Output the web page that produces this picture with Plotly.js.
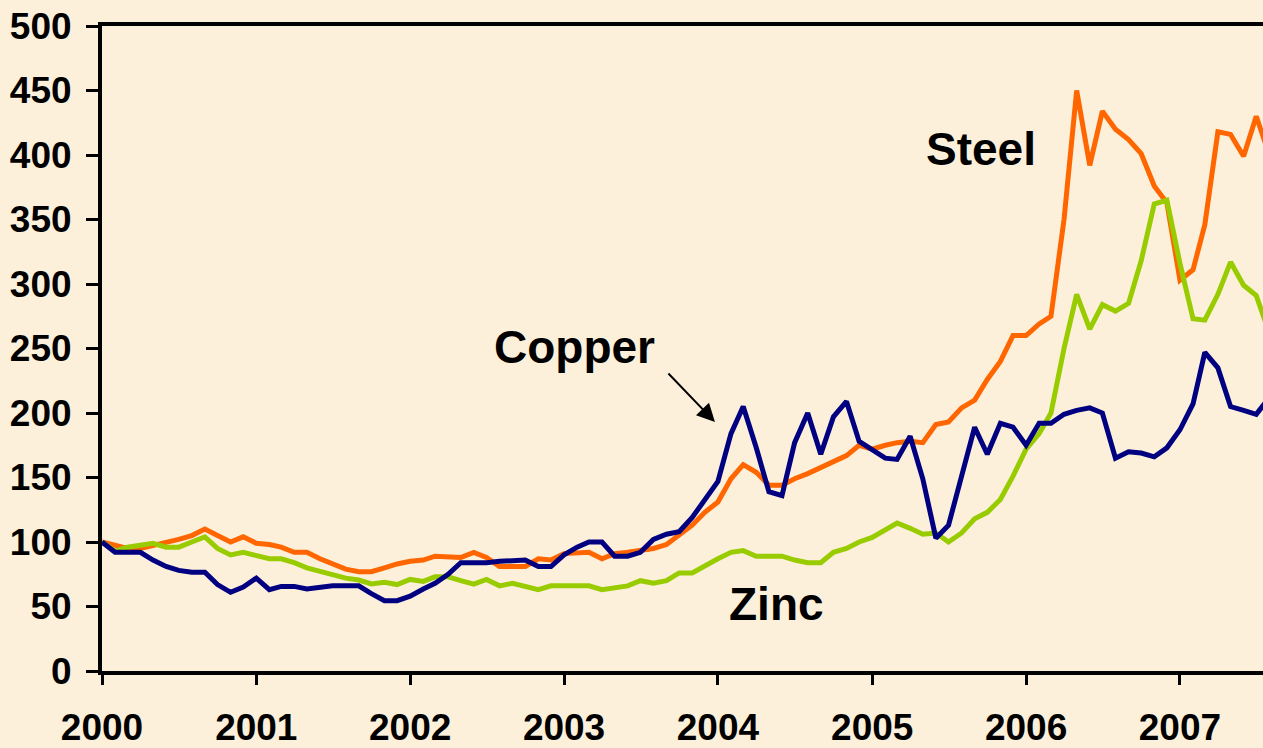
<!DOCTYPE html>
<html>
<head>
<meta charset="utf-8">
<script src="https://cdn.plot.ly/plotly-3.0.1.min.js"></script>
<style>
  html, body { margin: 0; padding: 0; background: #fcf0da; }
  #chart { width: 1263px; height: 748px; }
</style>
</head>
<body>
<div id="chart"></div>
<script>
// Monthly index values, Jan 2000 = 100 (Jan 2000 .. Aug 2007)
const startYear = 2000;
const steel = [100, 97, 95, 95, 97, 100, 102, 105, 110, 105, 100, 104,
               99, 98, 96, 92, 92, 87, 83, 79, 77, 77, 80, 83,
               85, 86, 89, 88, 88, 92, 88, 81, 81, 81, 87, 86,
               91, 92, 92, 87, 91, 92, 93, 95, 98, 105, 113, 123,
               131, 149, 160, 154, 144, 144, 149, 153, 158, 162, 167, 175,
               172, 175, 177, 178, 177, 191, 193, 204, 210, 226, 240, 260,
               260, 269, 275, 350, 450, 392, 434, 420, 412, 401, 376, 363,
               303, 311, 346, 418, 416, 399, 430, 400];
const copper = [100, 92, 92, 92, 86, 81, 78, 76.5, 76.5, 67, 61, 65,
                72, 63, 65.6, 65.6, 63.6, 64.7, 66, 66, 66, 60, 54.5, 54.5,
                58, 63.6, 68, 75, 84, 84, 84, 85, 86, 86, 81, 81,
                90, 96, 100, 100, 89, 89, 92, 102, 106, 108, 119, 132,
                147, 184, 205, 173, 139, 136, 177, 200, 168, 197, 209, 178,
                171, 165, 164, 182, 149, 103, 113, 151, 189, 168, 192, 189,
                175, 192, 192, 199, 202, 204, 200, 165, 170, 169, 166, 173,
                187, 207, 247, 235, 205, 202, 199, 212];
const zinc = [100, 93, 96, 98, 99, 96, 96, 100, 104, 95, 90, 92,
              89, 87, 87, 84, 80, 77, 75, 72, 70.5, 67.5, 68.7, 67,
              71, 69.5, 73, 73, 70, 67.4, 71, 66, 68, 66, 63, 66,
              66, 66, 66, 63, 64.3, 66, 70, 68, 70, 76, 76, 81.6,
              87, 92, 93.3, 89, 89, 89, 86, 84, 84, 92, 95, 100,
              103.6, 110, 114.7, 110.6, 106, 107, 100, 107, 118, 123, 133, 151,
              172, 184, 200, 250, 292, 265, 284, 279, 285, 318, 362, 365,
              316, 273, 272, 292, 317, 299, 291, 262];
const seriesNames = ['Steel', 'Copper', 'Zinc'];
const seriesColors = ['#ff6600', '#000080', '#99cc00'];
const yTicks = [0, 50, 100, 150, 200, 250, 300, 350, 400, 450, 500];

const months = steel.map((_, i) => {
  const y = startYear + Math.floor(i / 12);
  const m = (i % 12) + 1;
  return y + '-' + String(m).padStart(2, '0') + '-01';
});

const seriesData = [steel, copper, zinc];
const traces = seriesData.map((vals, k) => ({
  type: 'scatter',
  mode: 'lines',
  name: seriesNames[k],
  x: months,
  y: vals,
  line: { color: seriesColors[k], width: 5 },
  hoverinfo: 'x+y+name'
}));
const ordered = [traces[0], traces[2], traces[1]];

const bold = { family: 'Liberation Sans, Arial, sans-serif', size: 37, color: '#000000', weight: 'bold' };
const annFont = { family: 'Liberation Sans, Arial, sans-serif', size: 46, color: '#000000', weight: 'bold' };

const layout = {
  width: 1263,
  height: 748,
  margin: { l: 102, r: 0, t: 26, b: 77, pad: 0 },
  paper_bgcolor: '#fcf0da',
  plot_bgcolor: '#fcf0da',
  showlegend: false,
  xaxis: {
    type: 'date',
    range: ['2000-01-01', '2007-07-17'],
    tick0: '2000-01-01',
    dtick: 'M12',
    tickformat: '%Y',
    ticks: 'outside',
    ticklen: 10,
    tickwidth: 3,
    tickcolor: '#000',
    showline: true,
    linewidth: 4,
    linecolor: '#000',
    mirror: true,
    showgrid: false,
    zeroline: false,
    tickfont: bold,
    ticklabelstandoff: 11
  },
  yaxis: {
    range: [0, 500],
    tickvals: yTicks,
    ticktext: yTicks.map(String),
    ticks: 'outside',
    ticklen: 12,
    tickwidth: 3,
    tickcolor: '#000',
    showline: true,
    linewidth: 4,
    linecolor: '#000',
    showgrid: false,
    zeroline: false,
    tickfont: bold,
    ticklabelstandoff: 7
  },
  annotations: [
    { xref: 'x', yref: 'y', x: '2005-09-15', y: 405, text: 'Steel', showarrow: false,
      xanchor: 'center', yanchor: 'middle', font: annFont },
    { xref: 'x', yref: 'y', x: '2003-01-25', y: 251, text: 'Copper', showarrow: false,
      xanchor: 'center', yanchor: 'middle', font: annFont },
    { xref: 'x', yref: 'y', x: '2004-05-20', y: 52, text: 'Zinc', showarrow: false,
      xanchor: 'center', yanchor: 'middle', font: annFont },
    { xref: 'x', yref: 'y', x: '2003-12-25', y: 193, ax: -48, ay: -50, text: '',
      showarrow: true, arrowhead: 2, arrowsize: 1.8, arrowwidth: 2, arrowcolor: '#000' }
  ]
};

Plotly.newPlot('chart', ordered, layout, { staticPlot: true, displayModeBar: false });
</script>
</body>
</html>
